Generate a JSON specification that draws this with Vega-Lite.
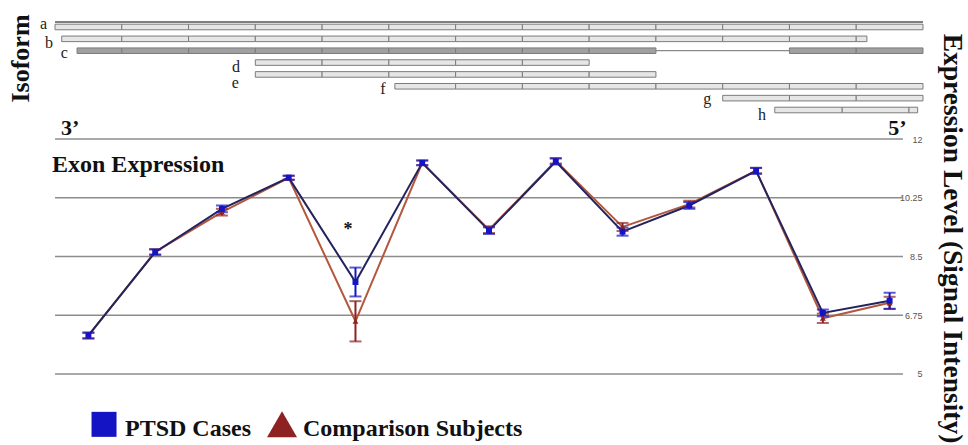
{
  "$schema": "https://vega.github.io/schema/vega-lite/v6.json",
  "padding": 0,
  "autosize": {"type": "pad"},
  "background": "white",
  "spacing": 0,
  "bounds": "flush",
  "config": {"view": {"stroke": null}},
  "datasets": {
    "expr": [
      {"exon": 1, "group": "Comparison Subjects", "mean": 6.14, "lo": 6.06, "hi": 6.22},
      {"exon": 2, "group": "Comparison Subjects", "mean": 8.64, "lo": 8.56, "hi": 8.72},
      {"exon": 3, "group": "Comparison Subjects", "mean": 9.82, "lo": 9.72, "hi": 9.92},
      {"exon": 4, "group": "Comparison Subjects", "mean": 10.84, "lo": 10.78, "hi": 10.9},
      {"exon": 5, "group": "Comparison Subjects", "mean": 6.57, "lo": 5.97, "hi": 7.17},
      {"exon": 6, "group": "Comparison Subjects", "mean": 11.29, "lo": 11.22, "hi": 11.36},
      {"exon": 7, "group": "Comparison Subjects", "mean": 9.3, "lo": 9.2, "hi": 9.4},
      {"exon": 8, "group": "Comparison Subjects", "mean": 11.35, "lo": 11.27, "hi": 11.43},
      {"exon": 9, "group": "Comparison Subjects", "mean": 9.38, "lo": 9.26, "hi": 9.5},
      {"exon": 10, "group": "Comparison Subjects", "mean": 10.06, "lo": 9.96, "hi": 10.16},
      {"exon": 11, "group": "Comparison Subjects", "mean": 11.06, "lo": 10.98, "hi": 11.14},
      {"exon": 12, "group": "Comparison Subjects", "mean": 6.66, "lo": 6.52, "hi": 6.8},
      {"exon": 13, "group": "Comparison Subjects", "mean": 7.12, "lo": 6.94, "hi": 7.3},
      {"exon": 1, "group": "PTSD Cases", "mean": 6.15, "lo": 6.06, "hi": 6.24},
      {"exon": 2, "group": "PTSD Cases", "mean": 8.63, "lo": 8.55, "hi": 8.71},
      {"exon": 3, "group": "PTSD Cases", "mean": 9.92, "lo": 9.82, "hi": 10.02},
      {"exon": 4, "group": "PTSD Cases", "mean": 10.85, "lo": 10.79, "hi": 10.91},
      {"exon": 5, "group": "PTSD Cases", "mean": 7.74, "lo": 7.31, "hi": 8.17},
      {"exon": 6, "group": "PTSD Cases", "mean": 11.29, "lo": 11.22, "hi": 11.36},
      {"exon": 7, "group": "PTSD Cases", "mean": 9.27, "lo": 9.17, "hi": 9.37},
      {"exon": 8, "group": "PTSD Cases", "mean": 11.33, "lo": 11.24, "hi": 11.42},
      {"exon": 9, "group": "PTSD Cases", "mean": 9.24, "lo": 9.12, "hi": 9.36},
      {"exon": 10, "group": "PTSD Cases", "mean": 10.02, "lo": 9.92, "hi": 10.12},
      {"exon": 11, "group": "PTSD Cases", "mean": 11.05, "lo": 10.96, "hi": 11.14},
      {"exon": 12, "group": "PTSD Cases", "mean": 6.82, "lo": 6.72, "hi": 6.92},
      {"exon": 13, "group": "PTSD Cases", "mean": 7.18, "lo": 6.94, "hi": 7.42}
    ],
    "segments": [
      {"iso": "a", "start": 0.5, "end": 1.5}, {"iso": "a", "start": 1.5, "end": 2.5}, {"iso": "a", "start": 2.5, "end": 3.5},
      {"iso": "a", "start": 3.5, "end": 4.5}, {"iso": "a", "start": 4.5, "end": 5.5}, {"iso": "a", "start": 5.5, "end": 6.5},
      {"iso": "a", "start": 6.5, "end": 7.5}, {"iso": "a", "start": 7.5, "end": 8.5}, {"iso": "a", "start": 8.5, "end": 9.5},
      {"iso": "a", "start": 9.5, "end": 10.5}, {"iso": "a", "start": 10.5, "end": 11.5}, {"iso": "a", "start": 11.5, "end": 12.5},
      {"iso": "a", "start": 12.5, "end": 13.5},
      {"iso": "b", "start": 0.6, "end": 1.5}, {"iso": "b", "start": 1.5, "end": 2.5}, {"iso": "b", "start": 2.5, "end": 3.5},
      {"iso": "b", "start": 3.5, "end": 4.5}, {"iso": "b", "start": 4.5, "end": 5.5}, {"iso": "b", "start": 5.5, "end": 6.5},
      {"iso": "b", "start": 6.5, "end": 7.5}, {"iso": "b", "start": 7.5, "end": 8.5}, {"iso": "b", "start": 8.5, "end": 9.5},
      {"iso": "b", "start": 9.5, "end": 10.5}, {"iso": "b", "start": 10.5, "end": 11.5}, {"iso": "b", "start": 11.5, "end": 12.5},
      {"iso": "b", "start": 12.5, "end": 12.66},
      {"iso": "c", "start": 0.83, "end": 1.5}, {"iso": "c", "start": 1.5, "end": 2.5}, {"iso": "c", "start": 2.5, "end": 3.5},
      {"iso": "c", "start": 3.5, "end": 4.5}, {"iso": "c", "start": 4.5, "end": 5.5}, {"iso": "c", "start": 5.5, "end": 6.5},
      {"iso": "c", "start": 6.5, "end": 7.5}, {"iso": "c", "start": 7.5, "end": 8.5}, {"iso": "c", "start": 8.5, "end": 9.5},
      {"iso": "c", "start": 11.5, "end": 12.5}, {"iso": "c", "start": 12.5, "end": 13.5},
      {"iso": "d", "start": 3.5, "end": 4.5}, {"iso": "d", "start": 4.5, "end": 5.5}, {"iso": "d", "start": 5.5, "end": 6.5},
      {"iso": "d", "start": 6.5, "end": 7.5}, {"iso": "d", "start": 7.5, "end": 8.5},
      {"iso": "e", "start": 3.5, "end": 4.5}, {"iso": "e", "start": 4.5, "end": 5.5}, {"iso": "e", "start": 5.5, "end": 6.5},
      {"iso": "e", "start": 6.5, "end": 7.5}, {"iso": "e", "start": 7.5, "end": 8.5}, {"iso": "e", "start": 8.5, "end": 9.5},
      {"iso": "f", "start": 5.59, "end": 6.5}, {"iso": "f", "start": 6.5, "end": 7.5}, {"iso": "f", "start": 7.5, "end": 8.5},
      {"iso": "f", "start": 8.5, "end": 9.5}, {"iso": "f", "start": 9.5, "end": 10.5}, {"iso": "f", "start": 10.5, "end": 11.5},
      {"iso": "f", "start": 11.5, "end": 12.5}, {"iso": "f", "start": 12.5, "end": 13.5},
      {"iso": "g", "start": 10.5, "end": 11.5}, {"iso": "g", "start": 11.5, "end": 12.5}, {"iso": "g", "start": 12.5, "end": 13.5},
      {"iso": "h", "start": 11.28, "end": 12.29}, {"iso": "h", "start": 12.29, "end": 13.29}, {"iso": "h", "start": 13.29, "end": 13.42}
    ],
    "introns": [{"iso": "c", "start": 9.5, "end": 11.5}],
    "header": [{"iso": "a", "start": 0.5, "end": 13.5}],
    "labels": [
      {"iso": "a", "lx": 0.33, "ly": 15.4256}, {"iso": "b", "lx": 0.41, "ly": 14.8597}, {"iso": "c", "lx": 0.64, "ly": 14.5618},
      {"iso": "d", "lx": 3.21, "ly": 14.13}, {"iso": "e", "lx": 3.2, "ly": 13.68}, {"iso": "f", "lx": 5.41, "ly": 13.4895},
      {"iso": "g", "lx": 10.27, "ly": 13.1916}, {"iso": "h", "lx": 11.09, "ly": 12.715}
    ],
    "grid": [{"level": 5}, {"level": 6.75}, {"level": 8.5}, {"level": 10.25}, {"level": 12}],
    "legend": [
      {"group": "PTSD Cases", "sx": 1.234, "sy": 3.5, "tx": 1.548, "ty": 3.153},
      {"group": "Comparison Subjects", "sx": 3.9, "sy": 3.5, "tx": 4.214, "ty": 3.153}
    ]
  },
  "vconcat": [
    {
      "width": 968,
      "height": 120,
      "layer": [
        {
          "data": {"name": "segments"},
          "mark": {"type": "rect", "stroke": "#7c7c7c", "strokeWidth": 1},
          "encoding": {
            "x": {"field": "start", "type": "quantitative", "scale": {"domain": [-0.324, 14.174], "nice": false, "zero": false}, "axis": null},
            "x2": {"field": "end"},
            "y": {
              "field": "iso", "type": "nominal",
              "scale": {"type": "band", "domain": ["a", "b", "c", "d", "e", "f", "g", "h"], "range": [18.27, 118.72], "paddingInner": 0.53, "paddingOuter": 0.5},
              "axis": {"orient": "left", "title": "Isoform", "labels": false, "ticks": false, "domain": false, "grid": false,
                "titleX": 20, "titleY": 58, "titleAngle": 270, "titleAlign": "center", "titleBaseline": "middle",
                "titleFont": "Liberation Serif", "titleFontSize": 26, "titleFontWeight": "bold", "titleColor": "#111"}
            },
            "fill": {"condition": {"test": "datum.iso === 'c'", "value": "#a0a0a0"}, "value": "#e6e6e6"}
          }
        },
        {
          "data": {"name": "introns"},
          "mark": {"type": "rule", "color": "#8a8a8a", "strokeWidth": 1.3},
          "encoding": {
            "x": {"field": "start", "type": "quantitative", "axis": null},
            "x2": {"field": "end"},
            "y": {"field": "iso", "type": "nominal"}
          }
        },
        {
          "data": {"name": "header"},
          "mark": {"type": "rule", "color": "#555555", "strokeWidth": 1.6, "yOffset": -5},
          "encoding": {
            "x": {"field": "start", "type": "quantitative", "axis": null},
            "x2": {"field": "end"},
            "y": {"field": "iso", "type": "nominal"}
          }
        }
      ]
    },
    {
      "width": 968,
      "height": 325,
      "layer": [
        {
          "data": {"name": "grid"},
          "mark": {"type": "rule", "color": "#8c8c8c", "strokeWidth": 1.6},
          "encoding": {
            "x": {"datum": 0.5, "type": "quantitative", "scale": {"domain": [-0.324, 14.174], "nice": false, "zero": false}, "axis": null},
            "x2": {"datum": 13.2},
            "y": {
              "field": "level", "type": "quantitative", "title": "Expression Level (Signal Intensity)",
              "scale": {"domain": [2.885, 12.566], "nice": false, "zero": false},
              "axis": {"orient": "right", "offset": -46, "values": [5, 6.75, 8.5, 10.25, 12], "labelExpr": "'' + datum.value",
                "labelAlign": "right", "labelPadding": 0, "labelBaseline": "middle", "ticks": false, "domain": false, "grid": false,
                "labelFont": "Liberation Sans", "labelFontSize": 9, "labelColor": "#555", "labelFlush": false, "labelOverlap": false,
                "titleFont": "Liberation Serif", "titleFontSize": 27.5, "titleFontWeight": "bold",
                "titleColor": "#111", "titleAngle": 90, "titleX": 29, "titleY": 118, "titleAlign": "center", "titleBaseline": "middle", "titleLimit": 2000}
            }
          }
        },
        {
          "data": {"name": "labels"},
          "mark": {"type": "text", "font": "Liberation Serif", "fontSize": 16, "baseline": "middle", "align": "center", "color": "#222"},
          "encoding": {
            "x": {"field": "lx", "type": "quantitative", "axis": null},
            "y": {"field": "ly", "type": "quantitative", "title": "Expression Level (Signal Intensity)"},
            "text": {"field": "iso"}
          }
        },
        {
          "data": {"name": "expr"},
          "mark": {"type": "line", "strokeWidth": 2},
          "encoding": {
            "x": {"field": "exon", "type": "quantitative", "axis": null},
            "y": {"field": "mean", "type": "quantitative", "title": "Expression Level (Signal Intensity)"},
            "stroke": {"field": "group", "type": "nominal", "scale": {"domain": ["PTSD Cases", "Comparison Subjects"], "range": ["#23235f", "#b3583c"]}, "legend": null}
          }
        },
        {
          "data": {"name": "expr"},
          "mark": {"type": "errorbar", "ticks": true, "size": 12, "thickness": 2},
          "encoding": {
            "x": {"field": "exon", "type": "quantitative", "axis": null},
            "y": {"field": "lo", "type": "quantitative", "title": "Expression Level (Signal Intensity)"},
            "y2": {"field": "hi"},
            "color": {"field": "group", "type": "nominal", "legend": null}
          }
        },
        {
          "data": {"name": "expr"},
          "mark": {"type": "point", "filled": true, "size": 35, "opacity": 1},
          "encoding": {
            "x": {"field": "exon", "type": "quantitative", "axis": null},
            "y": {"field": "mean", "type": "quantitative", "title": "Expression Level (Signal Intensity)"},
            "color": {
              "field": "group", "type": "nominal",
              "scale": {"domain": ["PTSD Cases", "Comparison Subjects"], "range": ["#1414c4", "#8e2222"]},
              "legend": null
            },
            "shape": {
              "field": "group", "type": "nominal",
              "scale": {"domain": ["PTSD Cases", "Comparison Subjects"], "range": ["square", "triangle-up"]},
              "legend": null
            }
          }
        },
        {
          "data": {"name": "legend"},
          "mark": {"type": "point", "filled": true, "opacity": 1, "strokeWidth": 0},
          "encoding": {
            "x": {"field": "sx", "type": "quantitative", "axis": null},
            "y": {"field": "sy", "type": "quantitative", "title": "Expression Level (Signal Intensity)"},
            "color": {"field": "group", "type": "nominal", "legend": null},
            "shape": {"field": "group", "type": "nominal", "legend": null},
            "size": {"field": "group", "type": "nominal", "scale": {"domain": ["PTSD Cases", "Comparison Subjects"], "range": [625, 900]}, "legend": null}
          }
        },
        {
          "data": {"name": "legend"},
          "mark": {"type": "text", "font": "Liberation Serif", "fontSize": 24, "fontWeight": "bold", "align": "left", "baseline": "alphabetic", "color": "#111"},
          "encoding": {
            "x": {"field": "tx", "type": "quantitative", "axis": null},
            "y": {"field": "ty", "type": "quantitative", "title": "Expression Level (Signal Intensity)"},
            "text": {"field": "group"}
          }
        },
        {
          "data": {"values": [{"note": "3’", "x": 0.725, "y": 12.119}, {"note": "5’", "x": 13.118, "y": 12.119}]},
          "mark": {"type": "text", "font": "Liberation Serif", "fontSize": 22, "fontWeight": "bold", "align": "center", "baseline": "alphabetic", "color": "#111"},
          "encoding": {
            "x": {"field": "x", "type": "quantitative", "axis": null},
            "y": {"field": "y", "type": "quantitative", "title": "Expression Level (Signal Intensity)"},
            "text": {"field": "note"}
          }
        },
        {
          "data": {"values": [{"note": "Exon Expression", "x": 0.455, "y": 11.017}]},
          "mark": {"type": "text", "font": "Liberation Serif", "fontSize": 24, "fontWeight": "bold", "align": "left", "baseline": "alphabetic", "color": "#111"},
          "encoding": {
            "x": {"field": "x", "type": "quantitative", "axis": null},
            "y": {"field": "y", "type": "quantitative", "title": "Expression Level (Signal Intensity)"},
            "text": {"field": "note"}
          }
        },
        {
          "data": {"values": [{"note": "*", "x": 4.888, "y": 9.13}]},
          "mark": {"type": "text", "font": "Liberation Serif", "fontSize": 18, "fontWeight": "bold", "align": "center", "baseline": "alphabetic", "color": "#111"},
          "encoding": {
            "x": {"field": "x", "type": "quantitative", "axis": null},
            "y": {"field": "y", "type": "quantitative", "title": "Expression Level (Signal Intensity)"},
            "text": {"field": "note"}
          }
        }
      ]
    }
  ]
}
